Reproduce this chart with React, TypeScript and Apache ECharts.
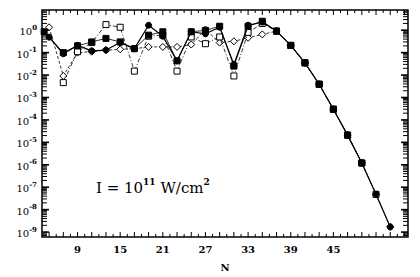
import React, { useEffect, useRef } from "react";
import * as echarts from "echarts";

// Filled circles, solid line
const nA = [5, 7, 9, 11, 13, 15, 17, 19, 21, 23, 25, 27, 29, 31, 33, 35, 37, 39, 41, 43, 45, 47, 49, 51, 53];
const valuesA = [0.49, 0.089, 0.21, 0.12, 0.13, 0.28, 0.15, 1.66, 0.54, 0.043, 0.85, 0.69, 1.35, 0.03, 1.66, 2.3, 0.91, 0.21, 0.035, 3.9e-3, 3.0e-4, 2.1e-5, 1.2e-6, 4.8e-8, 1.7e-9];

// Filled squares, thin solid line
const nB = [4.3, 7, 9, 11, 13, 15, 17, 19, 21, 23, 25, 27, 29, 31, 33, 35, 37, 39, 41, 43, 45, 47, 49];
const valuesB = [0.85, 0.1, 0.2, 0.3, 0.43, 0.3, 0.15, 0.6, 0.85, 0.043, 0.85, 0.98, 1.5, 0.025, 1.5, 2.5, 0.91, 0.21, 0.035, 3.9e-3, 3.0e-4, 2.1e-5, 1.2e-6];

// Open squares, dash-dot line
const nC = [7, 9, 11, 13, 15, 17, 19, 21, 23, 25, 27, 29, 31, 33, 35, 37, 39, 41, 43, 45, 47, 49, 51];
const valuesC = [4.6e-3, 0.11, 0.28, 1.78, 1.35, 0.015, 0.54, 0.6, 0.015, 0.5, 0.25, 0.5, 9.1e-3, 0.8, 2.0, 0.91, 0.21, 0.035, 3.9e-3, 3.0e-4, 2.1e-5, 1.2e-6, 4.8e-8];

// Open diamonds, dashed line
const nD = [5, 7, 9, 11, 13, 15, 17, 19, 21, 23, 25, 27, 29, 31, 33, 35, 37, 39, 41, 43, 45, 47, 49, 51, 53];
const valuesD = [1.35, 9.1e-3, 0.1, 0.11, 0.13, 0.14, 0.15, 0.18, 0.18, 0.18, 0.23, 1.07, 0.28, 0.32, 0.46, 0.65, 0.91, 0.21, 0.035, 3.9e-3, 3.0e-4, 2.1e-5, 1.2e-6, 4.8e-8, 1.7e-9];

const xTickLabels = [9, 15, 21, 27, 33, 39, 45];
const yTickExponents = [-9, -8, -7, -6, -5, -4, -3, -2, -1, 0];

const X_MIN = 4;
const X_MAX = 55.5;
const Y_MIN = -9.22;
const Y_MAX = 0.9;

// tick specs: side 0 bottom, 1 top, 2 left, 3 right
type Tick = { v: number; side: number; len: number; w: number };
const ticks: Tick[] = [];
for (let n = 5; n <= 55; n++) {
  const len = n % 2 === 1 ? 5 : 3;
  ticks.push({ v: n, side: 0, len, w: 1 });
  ticks.push({ v: n, side: 1, len, w: 1 });
}
for (let d = -10; d <= 0; d++) {
  for (let k = 1; k <= 9; k++) {
    const v = d + Math.log10(k);
    if (v > Y_MIN && v < Y_MAX) {
      const len = k === 1 ? 7 : 5;
      const w = k === 1 ? 1.6 : 1;
      ticks.push({ v, side: 2, len, w });
      ticks.push({ v, side: 3, len, w });
    }
  }
}

const toPts = (ns: number[], vs: number[]) => ns.map((n, i) => [n, Math.log10(vs[i])]);

const SERIF = "'DejaVu Serif', 'Liberation Serif', serif";

export default function App() {
  const ref = useRef<HTMLDivElement>(null);
  useEffect(() => {
    document.body.style.margin = "0";
    const chart = echarts.init(ref.current!, null, { renderer: "svg" });
    const black = "#000";
    const option: any = {
      animation: false,
      grid: { left: 42, right: 12, top: 10, bottom: 40, containLabel: false, show: true, borderColor: black, borderWidth: 1.5, backgroundColor: "transparent" },
      xAxis: {
        type: "value",
        min: X_MIN,
        max: X_MAX,
        splitLine: { show: false },
        axisLine: { show: false, onZero: false },
        axisTick: { show: false },
        axisLabel: { customValues: xTickLabels, color: black, fontFamily: SERIF, fontSize: 10, fontWeight: "bold", margin: 7 },
        name: "N",
        nameLocation: "middle",
        nameGap: 25,
        nameTextStyle: { color: black, fontFamily: SERIF, fontSize: 10, fontWeight: "bold" },
      },
      yAxis: {
        type: "value",
        min: Y_MIN,
        max: Y_MAX,
        splitLine: { show: false },
        axisLine: { show: false, onZero: false },
        axisTick: { show: false },
        axisLabel: {
          customValues: yTickExponents,
          margin: 5,
          formatter: (v: number) => `{b|10}{s|${Math.round(v)}}`,
          rich: {
            b: { fontFamily: SERIF, fontSize: 10, color: black, lineHeight: 13, verticalAlign: "bottom" },
            s: { fontFamily: SERIF, fontSize: 7, color: black, fontWeight: "bold", lineHeight: 7, verticalAlign: "top" },
          },
        },
      },
      series: [
        {
          type: "line",
          name: "D",
          data: toPts(nD, valuesD),
          symbol: "diamond",
          symbolSize: 7,
          itemStyle: { color: "#fff", borderColor: black, borderWidth: 1 },
          lineStyle: { color: black, width: 0.8, type: [3, 2] },
          z: 2,
        },
        {
          type: "line",
          name: "C",
          data: toPts(nC, valuesC),
          symbol: "rect",
          symbolSize: 6,
          itemStyle: { color: "#fff", borderColor: black, borderWidth: 1 },
          lineStyle: { color: black, width: 0.8, type: [4, 2, 1, 2] },
          z: 3,
        },
        {
          type: "line",
          name: "B",
          data: toPts(nB, valuesB),
          symbol: "rect",
          symbolSize: 6,
          itemStyle: { color: black, borderColor: black },
          lineStyle: { color: black, width: 0.8 },
          z: 4,
        },
        {
          type: "line",
          name: "A",
          data: toPts(nA, valuesA),
          symbol: "circle",
          symbolSize: 6,
          itemStyle: { color: black, borderColor: black },
          lineStyle: { color: black, width: 1.2 },
          z: 5,
        },
      ],
    };
    chart.setOption(option);

    const px = (x: number, y: number) => chart.convertToPixel({ gridIndex: 0 }, [x, y]) as number[];
    const tickEls: any[] = ticks.map((t) => {
      let x1 = 0, y1 = 0, x2 = 0, y2 = 0;
      if (t.side === 0) {
        const p = px(t.v, Y_MIN);
        x1 = p[0]; y1 = p[1]; x2 = p[0]; y2 = p[1] - t.len;
      } else if (t.side === 1) {
        const p = px(t.v, Y_MAX);
        x1 = p[0]; y1 = p[1]; x2 = p[0]; y2 = p[1] + t.len;
      } else if (t.side === 2) {
        const p = px(X_MIN, t.v);
        x1 = p[0]; y1 = p[1]; x2 = p[0] + t.len; y2 = p[1];
      } else {
        const p = px(X_MAX, t.v);
        x1 = p[0]; y1 = p[1]; x2 = p[0] - t.len; y2 = p[1];
      }
      return {
        type: "line",
        silent: true,
        z: 10,
        shape: { x1, y1, x2, y2 },
        style: { stroke: black, lineWidth: t.w },
      };
    });
    chart.setOption({
      graphic: [
        {
          type: "text",
          left: 96,
          top: 177,
          style: {
            text: "{a|I = 10}{s|11}{a| W/cm}{s|2}",
            rich: {
              a: { fontFamily: SERIF, fontSize: 15, fill: black, lineHeight: 18, verticalAlign: "bottom" },
              s: { fontFamily: SERIF, fontSize: 9, fontWeight: "bold", fill: black, lineHeight: 10, verticalAlign: "top" },
            },
          },
        },
        ...tickEls,
      ],
    });
    return () => chart.dispose();
  }, []);
  return <div ref={ref} style={{ width: 420, height: 277, position: "absolute", left: 0, top: 0, background: "#fff" }} />;
}
